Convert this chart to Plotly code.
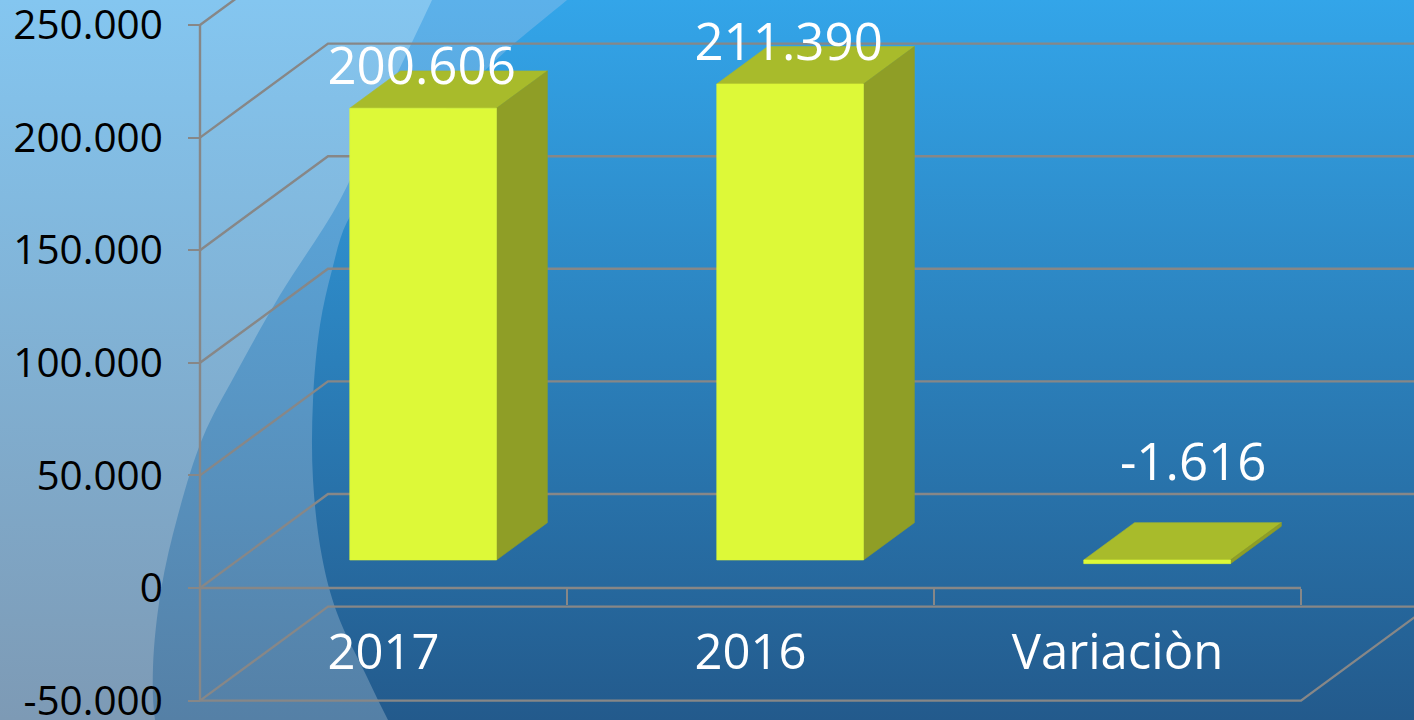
import plotly.graph_objects as go

categories = ["2017", "2016", "Variaciòn"]
values = [200606, 211390, -1616]
y_ticks = [-50000, 0, 50000, 100000, 150000, 200000, 250000]

W, H = 1414, 720
FONT = "Open Sans"
GRID = "#878787"
PX_CAT = 367.0      # pixels per category
PX_UNIT = 0.002252  # pixels per value unit
X0_PX, Y0_PX = 200, 588
DEPTH_DX, DEPTH_DV = 128 / PX_CAT, 94 / PX_UNIT  # full floor depth in data units
BAR_W, BAR_D0, BAR_D1 = 0.4, 0.298, 0.695
BAR_SHIFT = 1.5 / PX_CAT


def dots(v):
    return f"{v:,}".replace(",", ".")


def px_x(p):
    return (p - X0_PX) / PX_CAT


def px_y(p):
    return (Y0_PX - p) / PX_UNIT


def proj(c, v, d):
    return c + d * DEPTH_DX, v + d * DEPTH_DV


fig = go.Figure()


def backdrop(points, top, bottom, spline=True):
    xs = [px_x(p[0]) for p in points]
    ys = [px_y(p[1]) for p in points]
    fig.add_trace(go.Scatter(
        x=xs, y=ys, mode="lines", fill="toself",
        line=dict(width=0, shape="spline" if spline else "linear", smoothing=1.0),
        fillgradient=dict(type="vertical", colorscale=[[0, bottom], [1, top]],
                          start=px_y(H), stop=px_y(0)),
        hoverinfo="skip", showlegend=False))


# background layers
backdrop([(-5, -5), (W + 5, -5), (W + 5, H + 5), (-5, H + 5), (-5, -5)], "#84c6f0", "#7d9ab5", False)
backdrop([(446, -30), (432, 0), (385, 100), (340, 200), (280, 295), (235, 375), (203, 437), (178, 515),
          (161, 590), (153, 667), (155, H), (165, H + 40),
          (W + 40, H + 40), (W + 40, -30), (446, -30)], "#5cb1ea", "#5580a6")
backdrop([(620, -45), (567, 0), (507, 50), (430, 125), (375, 185), (347, 222), (332, 270), (320, 325),
          (313, 400), (313, 480), (322, 557), (337, 613), (367, 677), (388, H), (410, H + 40),
          (W + 40, H + 40), (W + 40, -45), (620, -45)], "#33a5e9", "#235a8c")


def line(xs, ys):
    fig.add_trace(go.Scatter(x=xs, y=ys, mode="lines", line=dict(color=GRID, width=2.4),
                             hoverinfo="skip", showlegend=False))


n = len(categories)
x_end = px_x(W + 40)
for t in y_ticks:
    bx, by = proj(0, t, 1)
    line([0, bx, x_end], [t, by, by])
line([0, 0], [y_ticks[0], y_ticks[-1]])
line([0, n], [0, 0])
fx, fy = proj(n, y_ticks[0], 1)
line([0, n, fx], [y_ticks[0], y_ticks[0], fy])


def poly(pts, color):
    fig.add_trace(go.Scatter(
        x=[p[0] for p in pts] + [pts[0][0]], y=[p[1] for p in pts] + [pts[0][1]],
        mode="lines", fill="toself", fillcolor=color, line=dict(width=0.6, color=color),
        hoverinfo="skip", showlegend=False))


label_x, label_y = [], []
for i, v in enumerate(values):
    c = i + 0.5 + BAR_SHIFT
    l, r = c - BAR_W / 2, c + BAR_W / 2
    hi, lo = max(v, 0), min(v, 0)
    poly([proj(l, hi, BAR_D0), proj(r, hi, BAR_D0), proj(r, hi, BAR_D1), proj(l, hi, BAR_D1)], "#a8bb2b")
    poly([proj(r, lo, BAR_D0), proj(r, hi, BAR_D0), proj(r, hi, BAR_D1), proj(r, lo, BAR_D1)], "#8f9e26")
    poly([proj(l, lo, BAR_D0), proj(r, lo, BAR_D0), proj(r, hi, BAR_D0), proj(l, hi, BAR_D0)], "#ddf938")
    px, pv = proj(c, hi, BAR_D0)
    if v >= 0:
        label_x.append(px - 1.5 / PX_CAT)
        label_y.append(pv + 37 / PX_UNIT)
    else:
        label_x.append(px + 36 / PX_CAT)
        label_y.append(pv + 93 / PX_UNIT)

fig.add_trace(go.Scatter(
    x=label_x, y=label_y, mode="text", text=[dots(v) for v in values],
    textposition="middle center", textfont=dict(family=FONT, size=51, color="white"),
    hoverinfo="skip", showlegend=False))

fig.update_layout(
    width=W, height=H, margin=dict(l=0, r=0, t=0, b=0, pad=0, autoexpand=False),
    paper_bgcolor="#2a6fa8", plot_bgcolor="rgba(0,0,0,0)", showlegend=False,
    xaxis=dict(
        range=[px_x(0), px_x(W)], domain=[0, 1], anchor="free", position=(H - Y0_PX) / H,
        tickmode="array", tickvals=[i + 0.5 for i in range(n)], ticktext=categories,
        ticks="", ticklabelstandoff=31, showgrid=False, zeroline=False, showline=False,
        ticklabeloverflow="allow",
        tickfont=dict(family=FONT, size=49, color="white"),
        minor=dict(tickmode="array", tickvals=list(range(1, n + 1)), ticks="outside",
                   ticklen=16, tickwidth=2, tickcolor=GRID, showgrid=False),
    ),
    yaxis=dict(
        range=[px_y(H), px_y(0)], domain=[0, 1], anchor="free", position=X0_PX / W,
        tickmode="array", tickvals=y_ticks, ticktext=[dots(t) for t in y_ticks],
        ticks="outside", ticklen=12, tickwidth=2, tickcolor=GRID, ticklabelstandoff=17,
        ticklabeloverflow="allow",
        showgrid=False, zeroline=False, showline=False,
        tickfont=dict(family=FONT, size=40.5, color="black"),
    ),
)

fig.write_html("out.html", config={"displayModeBar": False},
               post_script="document.body.style.margin='0';document.body.style.overflow='hidden';")
